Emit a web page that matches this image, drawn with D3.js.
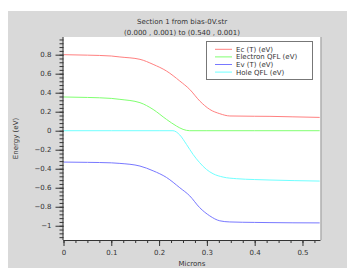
<!DOCTYPE html>
<html>
<head>
<meta charset="utf-8">
<script src="https://cdn.jsdelivr.net/npm/d3@7"></script>
<style>
  body { margin: 0; background: #fff; }
  svg text { font-family: 'DejaVu Sans', sans-serif; font-size: 7px; fill: #333; }
</style>
</head>
<body>
<svg class="bands" width="347" height="268"></svg>
<script>
// values (microns / eV)
const ecX = [0, 0.05, 0.1, 0.118, 0.16, 0.1875, 0.2155, 0.2433, 0.264, 0.285, 0.306, 0.327, 0.348, 0.4, 0.432, 0.48, 0.536];
const ecY = [0.80, 0.795, 0.786, 0.776, 0.751, 0.698, 0.628, 0.523, 0.435, 0.313, 0.224, 0.179, 0.155, 0.152, 0.151, 0.146, 0.14];
const evX = [0, 0.05, 0.1, 0.118, 0.16, 0.1875, 0.2155, 0.2433, 0.264, 0.285, 0.306, 0.327, 0.348, 0.4, 0.432, 0.48, 0.536];
const evY = [-0.33, -0.333, -0.338, -0.344, -0.372, -0.422, -0.492, -0.6, -0.685, -0.81, -0.896, -0.948, -0.96, -0.965, -0.967, -0.969, -0.97];
const efnX = [0, 0.05, 0.1, 0.118, 0.16, 0.1875, 0.2155, 0.2364, 0.2502, 0.264, 0.3, 0.4, 0.536];
const efnY = [0.355, 0.35, 0.34, 0.33, 0.295, 0.224, 0.119, 0.049, 0.014, 0, 0, 0, 0];
const efpX = [0, 0.1, 0.2, 0.229, 0.2433, 0.2573, 0.271, 0.285, 0.299, 0.313, 0.334, 0.362, 0.4, 0.432, 0.536];
const efpY = [0, 0, 0, 0, -0.045, -0.144, -0.249, -0.337, -0.407, -0.453, -0.488, -0.505, -0.514, -0.519, -0.53];

const seriesNames = ['Ec (T) (eV)', 'Electron QFL (eV)', 'Ev (T) (eV)', 'Hole QFL (eV)'];
const seriesColors = ['#ff8080', '#80ff70', '#7878ff', '#70ffff'];
const xTicks = [0, 0.1, 0.2, 0.3, 0.4, 0.5];
const yTicks = [-1, -0.8, -0.6, -0.4, -0.2, 0, 0.2, 0.4, 0.6, 0.8];
const titleLines = ['Section 1 from bias-0V.str', '(0.000 , 0.001) to (0.540 , 0.001)'];

const svg = d3.select('svg.bands'),
    margin = { top: 37, right: 26.5, bottom: 28, left: 63.5 },
    width = +svg.attr('width') - margin.left - margin.right,
    height = +svg.attr('height') - margin.top - margin.bottom;

// grey panel behind everything
svg.append('rect')
    .attr('x', 8).attr('y', 11)
    .attr('width', 339).attr('height', 257)
    .attr('fill', '#d9d9d9');

const x = d3.scaleLinear().domain([0, 0.5377]).range([0, width]);
const y = d3.scaleLinear().domain([-1.15, 0.986]).range([height, 0]);

const g = svg.append('g')
    .attr('transform', 'translate(' + margin.left + ',' + margin.top + ')');

g.append('rect')
    .attr('width', width).attr('height', height)
    .attr('fill', '#fff');
g.append('line')
    .attr('x1', width + 0.5).attr('x2', width + 0.5)
    .attr('y1', 0).attr('y2', height)
    .attr('stroke', '#999');

const series = [
    ecX.map((d, i) => [d, ecY[i]]),
    efnX.map((d, i) => [d, efnY[i]]),
    evX.map((d, i) => [d, evY[i]]),
    efpX.map((d, i) => [d, efpY[i]])
];

const line = d3.line()
    .x(d => x(d[0]))
    .y(d => y(d[1]))
    .curve(d3.curveMonotoneX);

// draw cyan/green order so both show along zero
[0, 2, 3, 1].forEach(i => {
    g.append('path')
        .datum(series[i])
        .attr('fill', 'none')
        .attr('stroke', seriesColors[i])
        .attr('stroke-width', 1)
        .attr('d', line);
});

// axes
const xMinor = d3.range(0, 0.5377, 0.025);
const yMinor = d3.range(-1.12, 0.986, 0.04);

g.append('g')
    .attr('transform', 'translate(0,' + height + ')')
    .call(d3.axisBottom(x).tickValues(xMinor).tickSize(3).tickFormat(''))
    .call(a => a.select('.domain').remove())
    .selectAll('line').attr('stroke', '#333');
const xa = g.append('g')
    .attr('transform', 'translate(0,' + height + ')')
    .call(d3.axisBottom(x).tickValues(xTicks).tickSize(6).tickPadding(4).tickFormat(d3.format('')));
xa.select('.domain').attr('stroke', '#333').attr('d', 'M0,0.5H' + width);
xa.selectAll('line').attr('stroke', '#333');
xa.selectAll('text').attr('font-size', null).attr('font-family', null).attr('fill', null);

g.append('g')
    .call(d3.axisLeft(y).tickValues(yMinor).tickSize(4).tickFormat(''))
    .call(a => a.select('.domain').remove())
    .selectAll('line').attr('stroke', '#333');
const ya = g.append('g')
    .call(d3.axisLeft(y).tickValues(yTicks).tickSize(8).tickPadding(4).tickFormat(d3.format('')));
ya.select('.domain').attr('stroke', '#333').attr('d', 'M-0.5,0V' + height);
ya.selectAll('line').attr('stroke', '#333');
ya.selectAll('text').attr('font-size', null).attr('font-family', null).attr('fill', null);

// titles
titleLines.forEach((t, i) => {
    svg.append('text')
        .attr('x', 182).attr('y', 23.5 + i * 11)
        .attr('text-anchor', 'middle')
        .text(t);
});
svg.append('text')
    .attr('x', margin.left + width / 2).attr('y', 266)
    .attr('text-anchor', 'middle')
    .text('Microns');
svg.append('text')
    .attr('text-anchor', 'middle')
    .attr('transform', 'translate(17.5,' + (margin.top + height / 2) + ')rotate(-90)')
    .text('Energy (eV)');

// legend
const lg = svg.append('g');
lg.append('rect')
    .attr('x', 206.5).attr('y', 41.5)
    .attr('width', 106).attr('height', 38)
    .attr('fill', '#fff').attr('stroke', '#777');
seriesNames.forEach((n, i) => {
    const cy = 49.3 + i * 7.6;
    lg.append('line')
        .attr('x1', 215).attr('x2', 232)
        .attr('y1', cy).attr('y2', cy)
        .attr('stroke', seriesColors[i]);
    lg.append('text')
        .attr('x', 236).attr('y', cy + 2.5)
        .text(n);
});
</script>
</body>
</html>
